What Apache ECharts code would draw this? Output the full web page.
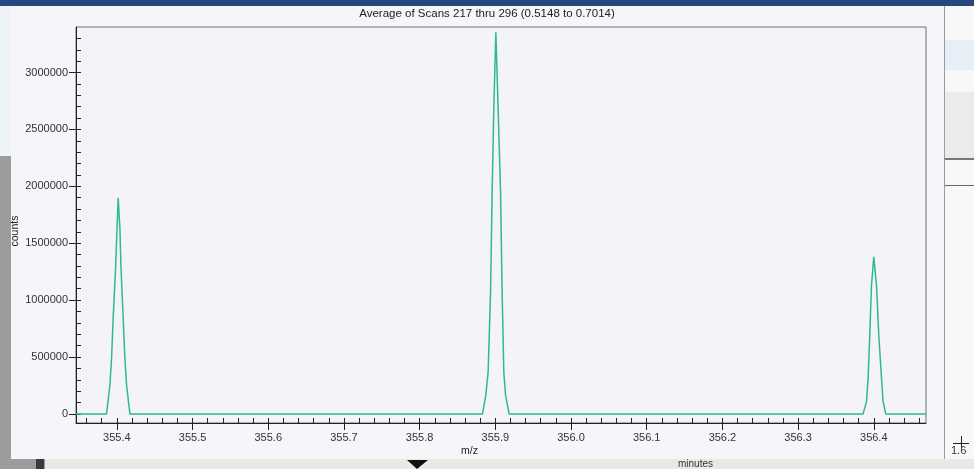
<!DOCTYPE html>
<html>
<head>
<meta charset="utf-8">
<title>Average of Scans</title>
<script src="https://cdn.jsdelivr.net/npm/echarts@6/dist/echarts.min.js"></script>
<style>
  html, body { margin: 0; padding: 0; background: #9c9c9c; }
  #main { width: 974px; height: 469px; }
</style>
</head>
<body>
<div id="main"></div>
<script>
// m/z positions (three peaks on a flat baseline)
var mzValues = [355.346, 355.3864, 355.3908, 355.393, 355.3951, 355.3983, 355.4017, 355.404, 355.4053, 355.4083, 355.4106, 355.4128, 355.4172,
  355.8831, 355.8875, 355.8905, 355.8937, 355.8958, 355.898, 355.9007, 355.9037, 355.9069, 355.909, 355.9112, 355.9135, 355.9182,
  356.3859, 356.3904, 356.3925, 356.3947, 356.397, 356.4, 356.4036, 356.4066, 356.4102, 356.4123, 356.4158, 356.469];
var countValues = [0, 0, 254000, 491000, 842000, 1280000, 1900000, 1630000, 1310000, 842000, 491000, 254000, 0,
  0, 167000, 368000, 1070000, 1947000, 2684000, 3354000, 2684000, 1947000, 1070000, 368000, 167000, 0,
  0, 108000, 316000, 693000, 1132000, 1380000, 1132000, 693000, 316000, 108000, 0, 0];

var xMajorTicks = [355.4, 355.5, 355.6, 355.7, 355.8, 355.9, 356.0, 356.1, 356.2, 356.3, 356.4];
var xMinorTicks = [355.36, 355.38, 355.4, 355.42, 355.44, 355.46, 355.48, 355.5, 355.52, 355.54, 355.56, 355.58, 355.6,
  355.62, 355.64, 355.66, 355.68, 355.7, 355.72, 355.74, 355.76, 355.78, 355.8, 355.82, 355.84, 355.86, 355.88, 355.9,
  355.92, 355.94, 355.96, 355.98, 356.0, 356.02, 356.04, 356.06, 356.08, 356.1, 356.12, 356.14, 356.16, 356.18, 356.2,
  356.22, 356.24, 356.26, 356.28, 356.3, 356.32, 356.34, 356.36, 356.38, 356.4, 356.42, 356.44, 356.46];
var yMajorTicks = [0, 500000, 1000000, 1500000, 2000000, 2500000, 3000000];
var yMinorTicks = [0, 100000, 200000, 300000, 400000, 500000, 600000, 700000, 800000, 900000, 1000000, 1100000, 1200000,
  1300000, 1400000, 1500000, 1600000, 1700000, 1800000, 1900000, 2000000, 2100000, 2200000, 2300000, 2400000, 2500000,
  2600000, 2700000, 2800000, 2900000, 3000000, 3100000, 3200000, 3300000];

var points = mzValues.map(function (m, i) { return [m, countValues[i]]; });

var chart = echarts.init(document.getElementById('main'));
var font = 'Liberation Sans';

var option = {
  animation: false,
  backgroundColor: '#9c9c9c',
  textStyle: { fontFamily: font },
  graphic: [
    // surrounding desktop / neighbouring windows
    { type: 'rect', z: -20, shape: { x: 0, y: 0, width: 974, height: 6 }, style: { fill: '#27487e' } },
    { type: 'rect', z: -20, shape: { x: 0, y: 6, width: 12, height: 150 }, style: { fill: '#eef3f8' } },
    { type: 'rect', z: -20, shape: { x: 945, y: 6, width: 29, height: 453 }, style: { fill: '#f8f8f8' } },
    { type: 'rect', z: -19, shape: { x: 945, y: 40, width: 29, height: 30 }, style: { fill: '#e6eef8' } },
    { type: 'rect', z: -19, shape: { x: 945, y: 92, width: 29, height: 66 }, style: { fill: '#ebebeb' } },
    { type: 'rect', z: -19, shape: { x: 945, y: 158, width: 29, height: 2 }, style: { fill: '#777' } },
    { type: 'rect', z: -19, shape: { x: 945, y: 185, width: 29, height: 1 }, style: { fill: '#666' } },
    { type: 'rect', z: -20, shape: { x: 45, y: 459, width: 929, height: 10 }, style: { fill: '#e8e8e4' } },
    { type: 'rect', z: -19, shape: { x: 36, y: 459, width: 8, height: 10 }, style: { fill: '#3a3a3a' } },
    { type: 'polygon', z: -18, shape: { points: [[407, 460], [428, 460], [417, 469]] }, style: { fill: '#111' } },
    { type: 'text', z: -18, left: 678, top: 459, style: { text: 'minutes', font: '10px ' + font, fill: '#333' } },
    { type: 'rect', z: -18, shape: { x: 953, y: 443, width: 16, height: 1 }, style: { fill: '#222' } },
    { type: 'rect', z: -18, shape: { x: 961, y: 436, width: 1, height: 12 }, style: { fill: '#222' } },
    { type: 'text', z: -18, left: 951, top: 445, style: { text: '1.6', font: '11px ' + font, fill: '#333' } },
    // spectrum window
    { type: 'rect', z: -15, shape: { x: 11, y: 6, width: 933, height: 453 }, style: { fill: '#f6f6fa' } },
    { type: 'text', left: 'center', top: 8, style: { text: 'Average of Scans 217 thru 296 (0.5148 to 0.7014)', font: '11.5px ' + font, fill: '#222' } },
    { type: 'text', x: 15, y: 231, rotation: Math.PI / 2, style: { text: 'counts', font: '10.5px ' + font, fill: '#222', align: 'center', verticalAlign: 'middle' } },
    { type: 'text', left: 461, top: 446, style: { text: 'm/z', font: '10.5px ' + font, fill: '#222' } }
  ],
  grid: {
    left: 76, right: 48, top: 27, bottom: 46,
    show: true, backgroundColor: '#f3f3f8', borderColor: '#6e6e6e', borderWidth: 1
  },
  xAxis: [
    {
      type: 'value', min: 355.346, max: 356.469, position: 'bottom',
      axisLine: { onZero: false, lineStyle: { color: '#222' } },
      splitLine: { show: false },
      axisTick: { length: 7, customValues: xMajorTicks, lineStyle: { color: '#222' } },
      axisLabel: {
        margin: 9, color: '#333', fontSize: 11, customValues: xMajorTicks,
        formatter: function (v) { return v.toFixed(1); }
      }
    },
    {
      type: 'value', min: 355.346, max: 356.469, position: 'bottom',
      axisLine: { show: false, onZero: false },
      splitLine: { show: false },
      axisTick: { inside: true, length: 5, customValues: xMinorTicks, lineStyle: { color: '#222' } },
      axisLabel: { show: false }
    }
  ],
  yAxis: [
    {
      type: 'value', min: -80000, max: 3400000, position: 'left',
      axisLine: { show: true, onZero: false, lineStyle: { color: '#222' } },
      splitLine: { show: false },
      axisTick: { show: true, length: 7, customValues: yMajorTicks, lineStyle: { color: '#222' } },
      axisLabel: {
        margin: 8, color: '#333', fontSize: 11, customValues: yMajorTicks,
        formatter: function (v) { return String(v); }
      }
    },
    {
      type: 'value', min: -80000, max: 3400000, position: 'left',
      axisLine: { show: false, onZero: false },
      splitLine: { show: false },
      axisTick: { show: true, inside: true, length: 5, customValues: yMinorTicks, lineStyle: { color: '#222' } },
      axisLabel: { show: false }
    }
  ],
  series: [
    {
      type: 'line',
      xAxisIndex: 0,
      yAxisIndex: 0,
      data: points,
      showSymbol: false,
      symbol: 'none',
      lineStyle: { color: '#2fba8b', width: 1.5 }
    }
  ]
};

chart.setOption(option);
</script>
</body>
</html>
